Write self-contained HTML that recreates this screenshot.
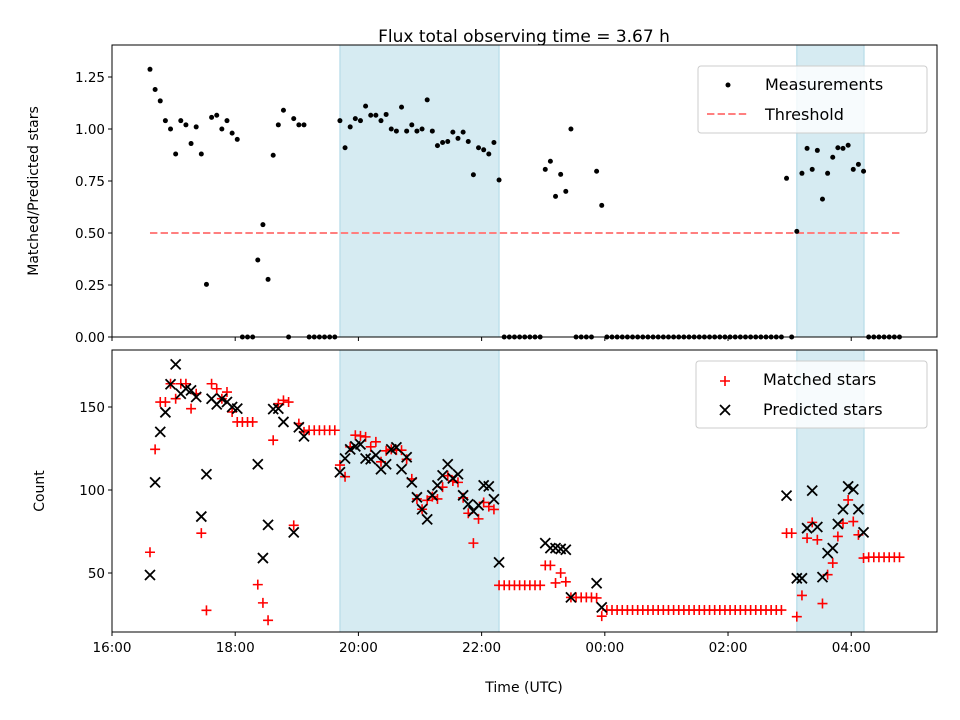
<!DOCTYPE html>
<html><head><meta charset="utf-8"><style>
html,body{margin:0;padding:0;background:#fff}
svg{display:block;font-family:"DejaVu Sans","Liberation Sans",sans-serif}
</style></head><body>
<svg id="chart" width="960" height="720" viewBox="0 0 960 720" xmlns="http://www.w3.org/2000/svg">
<text x="524" y="42" font-size="17" text-anchor="middle">Flux total observing time = 3.67 h</text>
<g id="gtop"></g><g id="gbot"></g>
<text transform="translate(38,191) rotate(-90)" font-size="14" text-anchor="middle">Matched/Predicted stars</text>
<text transform="translate(44,491) rotate(-90)" font-size="14" text-anchor="middle">Count</text>
<text x="524" y="692" font-size="14" text-anchor="middle">Time (UTC)</text>
</svg>
<script>
// minutes since 16:00
const times = [37,42,47,52,57,62,67,72,77,82,87,92,97,102,107,112,117,122,127,132,137,142,147,152,157,162,167,172,177,182,187,192,197,202,207,212,217,222,227,232,237,242,247,252,257,262,267,272,277,282,287,292,297,302,307,312,317,322,327,332,337,342,347,352,357,362,367,372,377,382,387,392,397,402,407,412,417,422,427,432,437,442,447,452,457,462,467,472,477,482,487,492,497,502,507,512,517,522,527,532,537,542,547,552,557,562,567,572,577,582,587,592,597,602,607,612,617,622,627,632,637,642,647,652,657,662,667,672,677,682,687,692,697,702,707,712,717,722,727,732,737,742,747,752,757,762,767];
const ratio = [1.287,1.19,1.135,1.04,1.0,0.88,1.04,1.02,0.93,1.01,0.88,0.253,1.056,1.066,1.0,1.04,0.98,0.95,0,0,0,0.37,0.54,0.277,0.874,1.02,1.09,0,1.05,1.02,1.02,0,0,0,0,0,0,
1.04,0.91,1.01,1.05,1.04,1.11,1.066,1.066,1.04,1.07,1.0,0.99,1.105,0.99,1.02,0.99,1.0,1.14,0.99,0.92,0.935,0.94,0.985,0.955,0.985,0.94,0.78,0.91,0.9,0.88,0.935,0.755,
0,0,0,0,0,0,0,0,0.806,0.845,0.676,0.782,0.70,1.0,0,0,0,0,0.797,0.633,
0,0,0,0,0,0,0,0,0,0,0,0,0,0,0,0,0,0,0,0,0,0,0,0,0,0,0,0,0,0,0,0,0,0,0,
0.763,0,0.508,0.787,0.907,0.806,0.897,0.663,0.787,0.864,0.91,0.907,0.922,0.806,0.83,0.797,0,0,0,0,0,0,0];
const matched = [62.5,124.5,153,153,164,155,164,164,149,158,74,27.5,164,161,155,159,147,141,141,141,141,43,32,21.5,130,152,154,153,78.7,140,135,136,136,136,136,136,136,
115,108,126,133,132.6,132,126,129,117,123.6,124.5,124,124,118.5,106.7,94.6,88.4,93.8,96,94.6,101.7,108.6,105.4,104.6,95.3,86,68,82.6,92.5,90,88.3,42.6,
42.6,42.6,42.6,42.6,42.6,42.6,42.6,42.6,54.6,54.6,44,50,44.7,35.3,35.3,35.3,35.3,35.3,35,24,
27.7,27.7,27.7,27.7,27.7,27.7,27.7,27.7,27.7,27.7,27.7,27.7,27.7,27.7,27.7,27.7,27.7,27.7,27.7,27.7,27.7,27.7,27.7,27.7,27.7,27.7,27.7,27.7,27.7,27.7,27.7,27.7,27.7,27.7,27.7,
74,74,23.7,36.5,71,80.5,70,31.6,49,56,72,80,94,81,73,59,59.5,59.5,59.5,59.5,59.5,59.5,59.5];
const predicted = [48.8,104.6,135,146.8,163.7,175.7,158,161,160,156,84,109.5,155,151.6,155,153,150,149,null,null,null,115.5,59,79,148.7,149,141,null,74.5,137.8,132.3,null,null,null,null,null,null,
110.7,119,124.5,126.3,127.5,119,118.5,121,112.5,115.5,124.5,125.7,112.5,119.7,104.6,95.6,88.4,82.3,96.8,102.8,108.8,115.5,107,109.5,96.8,91.4,87.2,90.8,102.8,102.2,94.4,56.4,
null,null,null,null,null,null,null,null,68,65,65,64.5,64,35.3,null,null,null,null,43.8,29.3,
null,null,null,null,null,null,null,null,null,null,null,null,null,null,null,null,null,null,null,null,null,null,null,null,null,null,null,null,null,null,null,null,null,null,null,
96.6,null,46.8,46.8,77,99.6,77.7,47.5,62,65,79.5,88.4,102.2,100.4,88.4,74.5,null,null,null,null,null,null,null];
const threshold = [0.5];
const shadeStart = [222, 667];
const shadeEnd = [377, 732.5];
const xTickMin = [0,120,240,360,480,600,720];
const xTickLabels = ["16:00","18:00","20:00","22:00","00:00","02:00","04:00"];
const topTicks = [0,0.25,0.5,0.75,1.0,1.25];
const topTickLabels = ["0.00","0.25","0.50","0.75","1.00","1.25"];
const botTicks = [50,100,150];
const botTickLabels = ["50","100","150"];

const NS="http://www.w3.org/2000/svg";
const L=112,R=937,T1=45,B1=337,T2=350,B2=632;
const xs=m=>L+m*1.0267;
const yTop=v=>337-v*208;
const yBot=c=>490-(c-100)*1.66;
function mk(p,tag,at){const e=document.createElementNS(NS,tag);for(const k in at)e.setAttribute(k,at[k]);p.appendChild(e);return e;}
const gTop=document.getElementById('gtop'), gBot=document.getElementById('gbot');

[[gTop,T1,B1],[gBot,T2,B2]].forEach(([g,t,b])=>{
  for(let i=0;i<shadeStart.length;i++){
    const r=mk(g,'rect',{x:xs(shadeStart[i]),y:t,width:xs(shadeEnd[i])-xs(shadeStart[i]),height:b-t,fill:'#add8e6','fill-opacity':0.5,stroke:'#add8e6','stroke-width':1});
    
    
  }
});

const th=mk(gTop,'line',{x1:xs(times[0]),x2:xs(times[times.length-1]),y1:yTop(threshold[0]),y2:yTop(threshold[0]),stroke:'#ff7f7f','stroke-width':2,'stroke-dasharray':'7.4,3.2'});


for(let i=0;i<times.length;i++){
  const c=mk(gTop,'circle',{cx:xs(times[i]),cy:yTop(ratio[i]),r:2.5,fill:'#000'});
  
  
}
for(let i=0;i<times.length;i++){
  const x=xs(times[i]);
  if(matched[i]!=null){
    const y=yBot(matched[i]);
    const p=mk(gBot,'path',{d:`M${x-5},${y}H${x+5}M${x},${y-5}V${y+5}`,stroke:'#f00','stroke-width':1.6,fill:'none'});
    
    
  }
}
for(let i=0;i<times.length;i++){
  const x=xs(times[i]);
  if(predicted[i]!=null){
    const y=yBot(predicted[i]);
    const p=mk(gBot,'path',{d:`M${x-5},${y-5}L${x+5},${y+5}M${x-5},${y+5}L${x+5},${y-5}`,stroke:'#000','stroke-width':1.8,fill:'none'});
    
    
  }
}
[[gTop,T1,B1,false],[gBot,T2,B2,true]].forEach(([g,t,b,lab])=>{
  const f=mk(g,'rect',{x:L,y:t,width:R-L,height:b-t,fill:'none',stroke:'#000','stroke-width':1});
  
  
  xTickMin.forEach((m,i)=>{
    const x=xs(m);
    const tk=mk(g,'line',{x1:x,x2:x,y1:b,y2:b+4,stroke:'#000'});
    
    
    if(lab){
      const tx=mk(g,'text',{x:x,y:b+20,'font-size':13.5,'text-anchor':'middle'});
      tx.textContent=xTickLabels[i];
      
      
    }
  });
});
topTicks.forEach((v,i)=>{
  const y=yTop(v);
  const tk=mk(gTop,'line',{x1:L-4,x2:L,y1:y,y2:y,stroke:'#000'});
  
  
  const tx=mk(gTop,'text',{x:L-7,y:y+5,'font-size':13.5,'text-anchor':'end'});
  tx.textContent=topTickLabels[i];
  
  
});
botTicks.forEach((v,i)=>{
  const y=yBot(v);
  const tk=mk(gBot,'line',{x1:L-4,x2:L,y1:y,y2:y,stroke:'#000'});
  
  
  const tx=mk(gBot,'text',{x:L-7,y:y+5,'font-size':13.5,'text-anchor':'end'});
  tx.textContent=botTickLabels[i];
  
  
});
function legend(g,x,y,w,h,name){
  const r=mk(g,'rect',{x:x,y:y,width:w,height:h,rx:3,fill:'#fff','fill-opacity':0.8,stroke:'#ccc'});
  
  
}
legend(gTop,698,66,229,67,'top-legend');
const lm=mk(gTop,'circle',{cx:728,cy:85,r:2.5,fill:'#000'});


const lt=mk(gTop,'text',{x:765,y:90,'font-size':16});lt.textContent='Measurements';


const ll=mk(gTop,'line',{x1:707,x2:749,y1:114,y2:114,stroke:'#ff7f7f','stroke-width':2,'stroke-dasharray':'7.4,3.2'});


const lt2=mk(gTop,'text',{x:765,y:120,'font-size':16});lt2.textContent='Threshold';



legend(gBot,696,361,231,67,'bottom-legend');
const pm=mk(gBot,'path',{d:'M720,381H730M725,376V386',stroke:'#f00','stroke-width':1.6});


const pt=mk(gBot,'text',{x:763,y:385,'font-size':16});pt.textContent='Matched stars';


const xm=mk(gBot,'path',{d:'M720,405L730,415M720,415L730,405',stroke:'#000','stroke-width':1.8});


const xt=mk(gBot,'text',{x:763,y:415,'font-size':16});xt.textContent='Predicted stars';


</script>
</body></html>
